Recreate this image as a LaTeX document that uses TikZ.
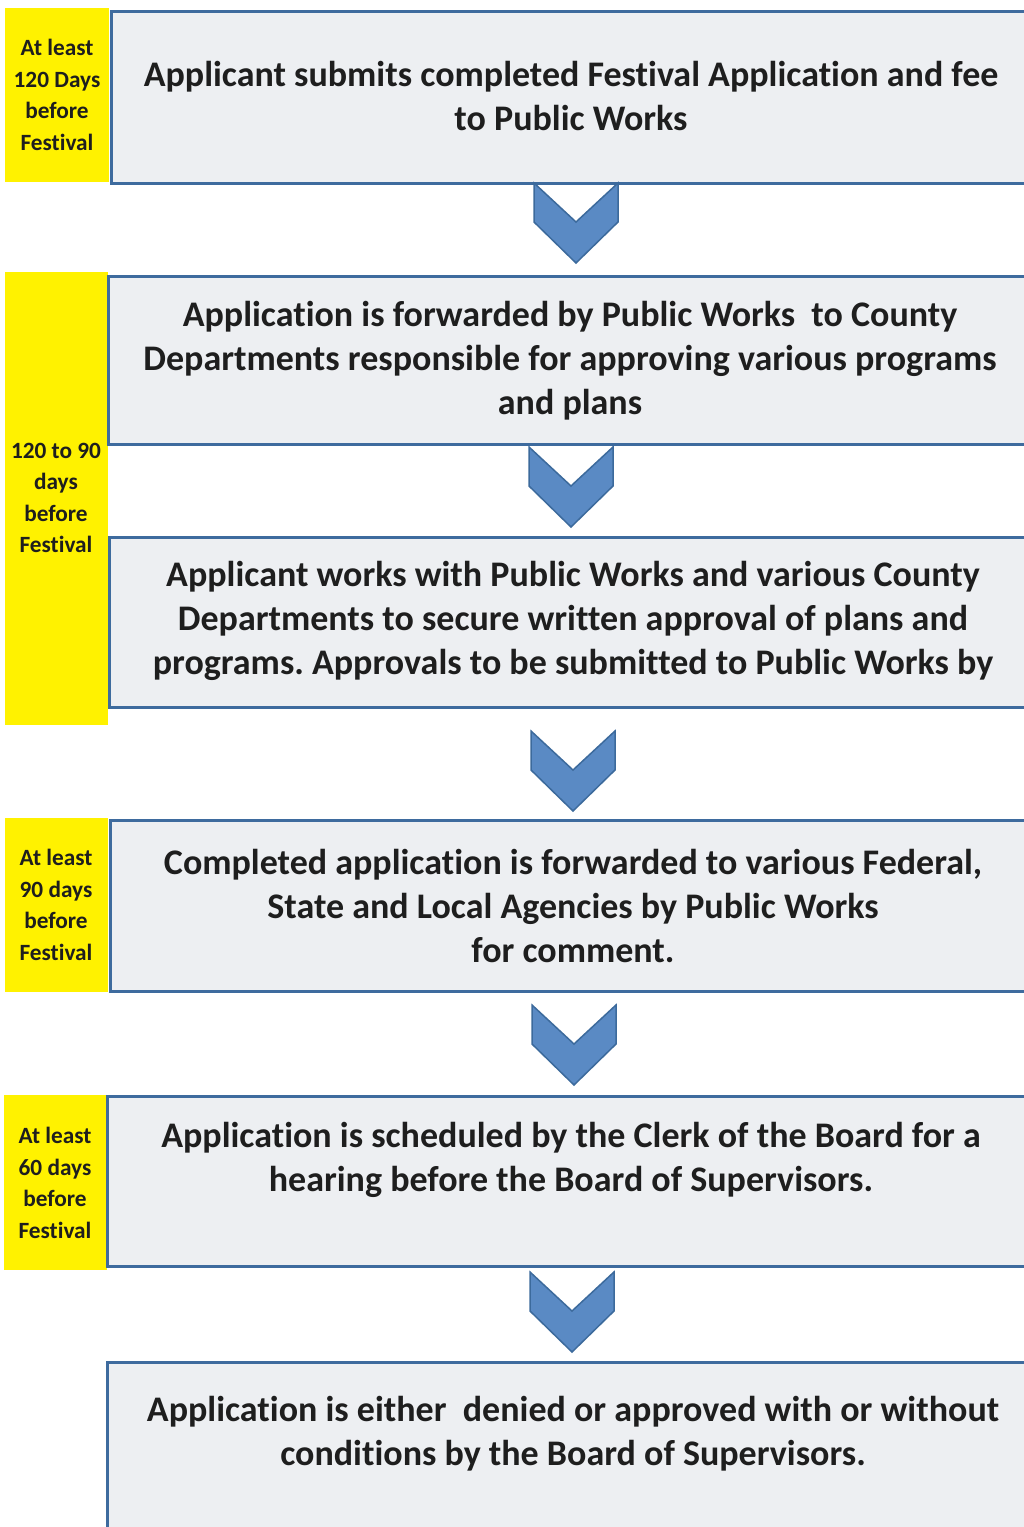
\documentclass[tikz,border=0pt]{standalone}
\usepackage{fontspec}
\setmainfont[Ligatures=NoCommon]{Carlito}
\definecolor{yel}{HTML}{FFF200}
\definecolor{boxgrey}{HTML}{EDEFF2}
\definecolor{boxblue}{HTML}{3E6B9E}
\definecolor{chevfill}{HTML}{5A8AC4}
\definecolor{chevline}{HTML}{3C6A9C}
\definecolor{textdark}{HTML}{1E1E1E}
\frenchspacing
\begin{document}
\begin{tikzpicture}[x=1pt,y=-1pt,
  greybox/.style={draw=boxblue, line width=2.5pt, fill=boxgrey, rectangle, anchor=north west, inner sep=0pt},
  boxtext/.style={align=center, inner sep=0pt, text=textdark, font=\bfseries\fontsize{36}{44}\selectfont},
  yelbox/.style={fill=yel, rectangle, anchor=north west, inner sep=0pt},
  yeltext/.style={align=center, inner sep=0pt, text=textdark, font=\bfseries\fontsize{23.3}{31.5}\selectfont},
  chevron/.pic={\filldraw[fill=chevfill, draw=chevline, line width=1.5pt, line join=miter]
     (-42,0) -- (0,39) -- (42,0) -- (42,39) -- (0,80) -- (-42,39) -- cycle;}
]
\clip (0,0) rectangle (1024,1527);
\fill[white] (0,0) rectangle (1024,1527);

% yellow time boxes
\node[yelbox, minimum width=104pt, minimum height=174pt] (y1) at (5,8) {};
\node[yelbox, minimum width=103pt, minimum height=453pt] (y2) at (5,272) {};
\node[yelbox, minimum width=103pt, minimum height=174pt] (y3) at (5,818) {};
\node[yelbox, minimum width=103pt, minimum height=175pt] (y4) at (4,1095) {};
\node[yeltext] (yt1) at (57,95) {At least\\120 Days\\before\\Festival};
\node[yeltext] (yt2) at (56,498) {120 to 90\\days\\before\\Festival};
\node[yeltext] (yt3) at (56,905) {At least\\90 days\\before\\Festival};
\node[yeltext] (yt4) at (55,1183) {At least\\60 days\\before\\Festival};

% grey step boxes
\node[greybox, minimum width=922pt, minimum height=172pt] (b1) at (110,10) {};
\node[greybox, minimum width=925pt, minimum height=168pt] (b2) at (107,275) {};
\node[greybox, minimum width=924pt, minimum height=170pt] (b3) at (108,536) {};
\node[greybox, minimum width=923pt, minimum height=171pt] (b4) at (109,819) {};
\node[greybox, minimum width=926pt, minimum height=170pt] (b5) at (106,1095) {};
\node[greybox, minimum width=926pt, minimum height=190pt] (b6) at (106,1361) {};

\node[boxtext] (t1) at (571,96) {Applicant submits completed Festival Application and fee\\to Public Works};
\node[boxtext] (t2) at (570,361) {Application is forwarded by Public Works\ \ to County\\Departments responsible for approving various programs\\and plans};
\node[boxtext] (t3) at (573,621) {Applicant works with Public Works and various County\\Departments to secure written approval of plans and\\programs. Approvals to be submitted to Public Works by};
\node[boxtext] (t4) at (573,906) {Completed application is forwarded to various Federal,\\State and Local Agencies by Public Works\\for comment.};
\node[boxtext] (t5) at (571,1160) {Application is scheduled by the Clerk of the Board for a\\hearing before the Board of Supervisors.};
\node[boxtext] (t6) at (573,1434) {Application is either\ \ denied or approved with or without\\conditions by the Board of Supervisors.};

% chevrons between the steps
\pic at (576,183) {chevron};
\pic at (571,447) {chevron};
\pic at (573,731) {chevron};
\pic at (574,1005) {chevron};
\pic at (572,1272) {chevron};
\end{tikzpicture}
\end{document}
